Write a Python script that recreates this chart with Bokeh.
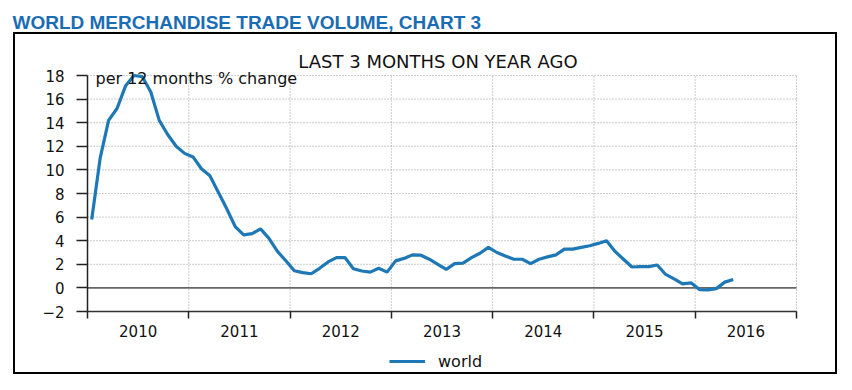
from bokeh.plotting import figure
from bokeh.models import (Range1d, FixedTicker, Label, Legend, LegendItem,
                          ColumnDataSource, InlineStyleSheet)
from bokeh.embed import file_html
from bokeh.resources import INLINE

# ---- data (monthly, Jan 2010 - May 2016), % change last 3 months on year ago
start_year = 2010
world = [
    5.8, 11.0, 14.2, 15.2, 17.1, 18.0, 17.9, 16.6, 14.2, 13.0, 12.0, 11.4,   # 2010
    11.1, 10.1, 9.5, 8.1, 6.7, 5.2, 4.5, 4.6, 5.0, 4.2, 3.1, 2.3,            # 2011
    1.45, 1.3, 1.2, 1.66, 2.2, 2.57, 2.57, 1.63, 1.43, 1.34, 1.66, 1.34,     # 2012
    2.29, 2.5, 2.8, 2.77, 2.43, 2.0, 1.57, 2.06, 2.1, 2.57, 2.94, 3.43,      # 2013
    3.0, 2.71, 2.43, 2.43, 2.06, 2.43, 2.63, 2.8, 3.29, 3.29, 3.43, 3.57,    # 2014
    3.77, 4.0, 3.09, 2.43, 1.77, 1.8, 1.8, 1.94, 1.14, 0.77, 0.34, 0.43,     # 2015
    -0.14, -0.17, -0.06, 0.49, 0.71,                                        # 2016
]
years = [2010, 2011, 2012, 2013, 2014, 2015, 2016, 2017]
year_labels = ["2010", "2011", "2012", "2013", "2014", "2015", "2016"]
y_ticks = [-2, 0, 2, 4, 6, 8, 10, 12, 14, 16, 18]
series_name = "world"
title_text = "WORLD MERCHANDISE TRADE VOLUME, CHART 3"
subtitle_text = "LAST 3 MONTHS ON YEAR AGO"
unit_text = "per 12 months % change"

# mid-month positions in fractional years
month_x = [start_year + (i + 0.5) / 12 for i in range(len(world))]
src = ColumnDataSource(data=dict(x=month_x, y=world))

LINE_COLOR = "#1f78b6"
TITLE_COLOR = "#1a6db5"
FONT = "DejaVu Sans"

# ---- layout (pixels): the plot frame covers the whole canvas, the axes sit at fixed locations
W, H = 848, 386
AX_LEFT, AX_RIGHT, AX_TOP, AX_BOTTOM = 87, 796, 75, 311
x0, x1 = years[0], years[-1]
y0, y1 = y_ticks[0], y_ticks[-1]
kx = (AX_RIGHT - AX_LEFT) / (x1 - x0)
ky = (AX_BOTTOM - AX_TOP) / (y1 - y0)
xr = Range1d(x0 - AX_LEFT / kx, x0 + (W - AX_LEFT) / kx)
yr = Range1d(y1 - (H - AX_TOP) / ky, y1 + AX_TOP / ky)

box_css = InlineStyleSheet(css="""
:host::after {
  content: "";
  position: absolute;
  left: 13px; top: 32px; width: 824px; height: 342px;
  border: 2px solid #000;
  box-sizing: border-box;
  pointer-events: none;
}
""")

p = figure(width=W, height=H, output_backend="svg", toolbar_location=None,
           x_range=xr, y_range=yr, min_border=0, title=None)
p.stylesheets = [box_css]
p.outline_line_color = None
p.background_fill_color = "white"
p.border_fill_color = "white"
p.xgrid.visible = False
p.ygrid.visible = False

# ---- grid (dotted), drawn from the tick lists
gx = years[1:]
p.segment(x0=gx, y0=[y0] * len(gx), x1=gx, y1=[y1] * len(gx),
          line_color="#9a9a9a", line_dash="1 2", line_width=1)
gy = [t for t in y_ticks if t > 0]
p.segment(x0=[x0] * len(gy), y0=gy, x1=[x1] * len(gy), y1=gy,
          line_color="#9a9a9a", line_dash="1 2", line_width=1)
# zero line
p.segment(x0=[x0], y0=[0], x1=[x1], y1=[0], line_color="#666666", line_width=1.8)

# ---- axes
mids = [y + 0.5 for y in years[:-1]]
xa = p.xaxis[0]
xa.fixed_location = y0
xa.bounds = (x0, x1)
xa.ticker = FixedTicker(ticks=mids, minor_ticks=years)
xa.major_label_overrides = {m: lab for m, lab in zip(mids, year_labels)}
xa.major_tick_out = 0
xa.major_tick_in = 0
xa.minor_tick_out = 7
xa.minor_tick_in = 0
xa.minor_tick_line_color = "#222222"
xa.minor_tick_line_width = 1.5
xa.major_label_standoff = 6
xa.axis_line_color = "#333333"
xa.axis_line_width = 1.5

ya = p.yaxis[0]
ya.fixed_location = x0
ya.bounds = (y0, y1)
ya.ticker = FixedTicker(ticks=y_ticks)
ya.major_tick_out = 11
ya.major_tick_in = 0
ya.minor_tick_out = 0
ya.minor_tick_in = 0
ya.major_tick_line_color = "#222222"
ya.major_tick_line_width = 1.5
ya.major_label_standoff = 12
ya.axis_line_color = "#222222"
ya.axis_line_width = 1.5

for ax in (xa, ya):
    ax.major_label_text_font = FONT
    ax.major_label_text_font_size = "15px"
    ax.major_label_text_color = "#111111"

# ---- series
r = p.line("x", "y", source=src, line_color=LINE_COLOR, line_width=3.2)

legend = Legend(items=[LegendItem(label=series_name, renderers=[r])],
                location=(389, 15), orientation="horizontal",
                border_line_color=None, background_fill_alpha=0,
                padding=0, margin=0, glyph_width=36, glyph_height=20,
                label_standoff=13, label_text_font=FONT, label_text_font_size="16px",
                label_text_color="#111111")
p.add_layout(legend)

# ---- texts
p.add_layout(Label(x=x0, y=y1, x_offset=-75, y_offset=53, text=title_text,
                   text_font="Liberation Sans", text_font_style="bold", text_font_size="19px",
                   text_color=TITLE_COLOR, text_baseline="alphabetic", text_align="left"))
p.add_layout(Label(x=x0, y=y1, x_offset=350.5, y_offset=14, text=subtitle_text,
                   text_font=FONT, text_font_size="18px", text_color="#111111",
                   text_baseline="alphabetic", text_align="center"))
p.add_layout(Label(x=x0, y=y1, x_offset=8, y_offset=-3, text=unit_text,
                   text_font=FONT, text_font_size="16px", text_color="#111111",
                   text_baseline="alphabetic", text_align="left"))

open("out.html", "w").write(file_html(p, INLINE))
